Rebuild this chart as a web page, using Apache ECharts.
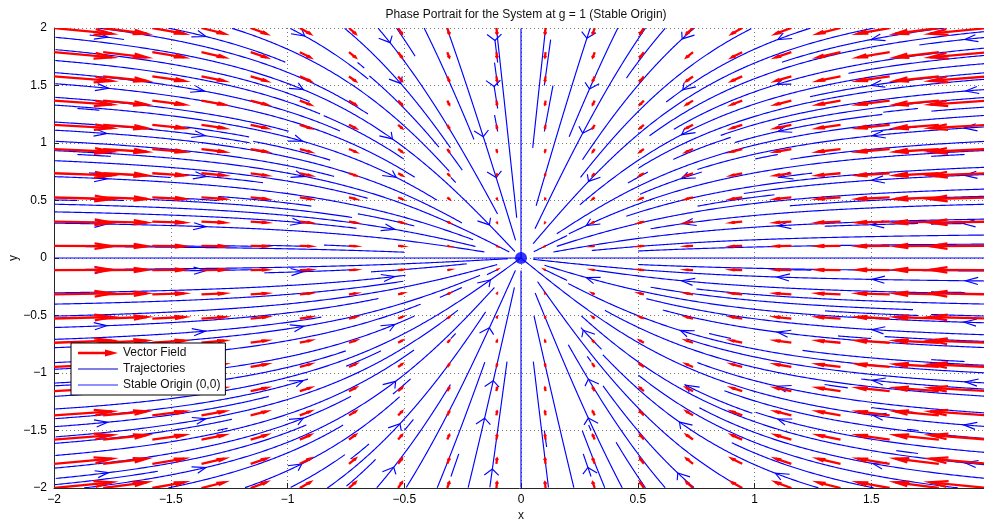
<!DOCTYPE html>
<html>
<head>
<meta charset="utf-8">
<title>Phase Portrait, g = 1</title>
<script src="https://cdn.jsdelivr.net/npm/echarts@6/dist/echarts.min.js"></script>
<style>
  html, body { margin: 0; padding: 0; background: #ffffff; }
  #chart { width: 984px; height: 522px; }
</style>
</head>
<body>
<div id="chart"></div>
<script>
// System parameter: dx/dt = -(g*x + x^3), dy/dt = -y
const g = 1;

// Sample points of the vector field (20 x 20 grid over [-2, 2])
const quiverX = [-2, -1.7895, -1.5789, -1.3684, -1.1579, -0.9474, -0.7368, -0.5263, -0.3158, -0.1053,
                 0.1053, 0.3158, 0.5263, 0.7368, 0.9474, 1.1579, 1.3684, 1.5789, 1.7895, 2];
const quiverY = [-2, -1.7895, -1.5789, -1.3684, -1.1579, -0.9474, -0.7368, -0.5263, -0.3158, -0.1053,
                 0.1053, 0.3158, 0.5263, 0.7368, 0.9474, 1.1579, 1.3684, 1.5789, 1.7895, 2];

// Start positions for trajectories
const seedCoords = [-1.9, -1.7, -1.5, -1.3, -1.1, -0.9, -0.7, -0.5, -0.3, -0.1,
                    0.1, 0.3, 0.5, 0.7, 0.9, 1.1, 1.3, 1.5, 1.7, 1.9];
const axisSeeds = [[0, 1.9], [-1.9, 0], [1.9, 0]];
const lateAxisSeeds = [[0, -1.9]];

// Where the direction arrowheads sit along the trajectories
const arrowX = [-1.77, -1.35, -0.93, -0.54, -0.14, 0.28, 0.69, 1.1, 1.5, 1.9];
const arrowY = [-1.83, -1.4, -1.06, -0.6, -0.17, 0.28, 0.68, 1.07, 1.48, 1.91];

// Axis ticks
const xTicks = [-2, -1.5, -1, -0.5, 0, 0.5, 1, 1.5, 2];
const yTicks = [-2, -1.5, -1, -0.5, 0, 0.5, 1, 1.5, 2];

function field(x, y) {
  return [-(g * x + x * x * x), -y];
}

// ---- vector field arrows ----
const quiverScale = 0.0248;
const quiverData = [];
for (const x of quiverX) {
  for (const y of quiverY) {
    const [u, v] = field(x, y);
    quiverData.push([x, y, u * quiverScale, v * quiverScale]);
  }
}

// ---- evenly spaced trajectories (occupancy grid, like streamslice) ----
const lo = xTicks[0], hi = xTicks[xTicks.length - 1];
const NE = 80;
const cell = (hi - lo) / NE;
const occupied = new Uint8Array(NE * NE);
const h = 0.008;

function cellOf(x, y) {
  let c = Math.floor((x - lo) / cell), r = Math.floor((y - lo) / cell);
  c = Math.max(0, Math.min(NE - 1, c));
  r = Math.max(0, Math.min(NE - 1, r));
  return r * NE + c;
}
function dir(x, y, s) {
  const [u, v] = field(x, y);
  const m = Math.hypot(u, v);
  if (m < 1e-10) return null;
  return [s * u / m, s * v / m];
}
function trace(x0, y0, s) {
  const pts = [];
  let x = x0, y = y0, prev = cellOf(x0, y0);
  for (let k = 0; k < 6000; k++) {
    const d1 = dir(x, y, s);
    if (!d1) break;
    const d2 = dir(x + 0.5 * h * d1[0], y + 0.5 * h * d1[1], s);
    if (!d2) break;
    const nx = x + h * d2[0], ny = y + h * d2[1];
    if (nx < lo || nx > hi || ny < lo || ny > hi) break;
    if (s > 0 && Math.hypot(nx, ny) < h) { pts.push([0, 0]); break; }
    const c = cellOf(nx, ny);
    if (c !== prev) {
      if (occupied[c]) break;
      occupied[c] = 1;
      prev = c;
    }
    x = nx; y = ny;
    pts.push([x, y]);
  }
  return pts;
}

// coarse-to-fine seeding order
const seeds = axisSeeds.slice();
const n = seedCoords.length;
for (const step of [8, 4, 2, 1]) {
  for (let r = 0; r < n; r += step) {
    for (let c = 0; c < n; c += step) {
      const coarser = step < 8 && r % (step * 2) === 0 && c % (step * 2) === 0;
      if (!coarser) seeds.push([seedCoords[c], seedCoords[n - 1 - r]]);
    }
  }
}
seeds.push(...lateAxisSeeds);

const streamlines = [];
for (const [sx, sy] of seeds) {
  const c0 = cellOf(sx, sy);
  if (occupied[c0]) continue;
  occupied[c0] = 1;
  const fwd = trace(sx, sy, 1);
  const bwd = trace(sx, sy, -1);
  const line = bwd.reverse().concat([[sx, sy]], fwd);
  if (line.length < 3) continue;
  streamlines.push(line);
}

// arrowheads: one per lattice spot, on the nearest trajectory point
const PX = 233.5, PY = 115;
const arrowData = [];
for (const ax of arrowX) {
  for (const ay of arrowY) {
    let best = null, bd = 1e9;
    streamlines.forEach((line, li) => {
      for (let k = 1; k < line.length - 1; k++) {
        const ddx = (line[k][0] - ax) * PX, ddy = (line[k][1] - ay) * PY;
        const d = ddx * ddx + ddy * ddy;
        if (d < bd) { bd = d; best = [li, k]; }
      }
    });
    if (!best || bd > 28 * 28) continue;
    const line = streamlines[best[0]], k = best[1];
    const p = line[k], a = line[k - 1], b = line[k + 1];
    const dl = Math.hypot(b[0] - a[0], b[1] - a[1]) || 1;
    arrowData.push([p[0], p[1], (b[0] - a[0]) / dl, (b[1] - a[1]) / dl]);
  }
}

// ---- chart ----
const minus = v => (v < 0 ? '\u2212' + Math.abs(v) : String(v));
const FONT = 'Liberation Sans';
const axisColor = '#262626';
const gridStyle = { show: true, lineStyle: { color: '#777', type: [1, 3], width: 1 } };
const trajStyle = { stroke: '#0000ff', lineWidth: 1.15, fill: null };

const chart = echarts.init(document.getElementById('chart'), null, { renderer: 'canvas' });

chart.setOption({
  animation: false,
  backgroundColor: '#ffffff',
  title: {
    text: 'Phase Portrait for the System at g = 1 (Stable Origin)',
    left: 521, top: 4, textAlign: 'center',
    textStyle: { fontFamily: FONT, fontSize: 12, fontWeight: 'normal', color: '#111' }
  },
  grid: { left: 54, top: 28, width: 934, height: 460, outerBoundsMode: 'none' },
  xAxis: {
    type: 'value', min: xTicks[0], max: xTicks[xTicks.length - 1], interval: 0.5,
    name: 'x', nameLocation: 'middle', nameGap: 22, nameMoveOverlap: false,
    nameTextStyle: { fontFamily: FONT, fontSize: 12, color: '#111' },
    axisLine: { onZero: false, lineStyle: { color: axisColor, width: 1 } },
    axisTick: { inside: true, length: 5, lineStyle: { color: axisColor } },
    axisLabel: { margin: 6, formatter: minus, fontFamily: FONT, fontSize: 12, color: '#000' },
    splitLine: gridStyle
  },
  yAxis: {
    type: 'value', min: yTicks[0], max: yTicks[yTicks.length - 1], interval: 0.5,
    name: 'y', nameLocation: 'middle', nameGap: 34, nameMoveOverlap: false,
    nameTextStyle: { fontFamily: FONT, fontSize: 12, color: '#111' },
    axisLine: { onZero: false, lineStyle: { color: axisColor, width: 1 } },
    axisTick: { inside: true, length: 5, lineStyle: { color: axisColor } },
    axisLabel: { margin: 7, formatter: minus, fontFamily: FONT, fontSize: 12, color: '#000' },
    splitLine: gridStyle
  },
  legend: {
    orient: 'vertical', left: 71, top: 343,
    padding: [4, 5, 4, 7], itemGap: 4, itemWidth: 40, itemHeight: 14,
    backgroundColor: '#ffffff', borderColor: '#000', borderWidth: 1, borderRadius: 0,
    selectedMode: false,
    textStyle: { fontFamily: FONT, fontSize: 12, color: '#111' },
    data: [
      { name: 'Vector Field', icon: 'path://M0,2.3H27V0L40,3.5L27,7V4.7H0Z', itemStyle: { color: '#ff0000' } },
      { name: 'Trajectories', icon: 'path://M0,0H40V1H0Z', itemStyle: { color: '#0000c8' } },
      { name: 'Stable Origin (0,0)', icon: 'path://M0,0H40V1.5H0Z', itemStyle: { color: '#4646ff' } }
    ]
  },
  series: [
    {
      name: 'Trajectories',
      type: 'custom',
      coordinateSystem: 'cartesian2d',
      clip: true,
      silent: true,
      z: 2,
      encode: { x: 0, y: 1 },
      data: streamlines.map((line, i) => [line[0][0], line[0][1], i]),
      itemStyle: { color: '#0000ff' },
      renderItem: function (params, api) {
        const pts = streamlines[api.value(2)].map(p => api.coord(p));
        return { type: 'polyline', shape: { points: pts }, style: trajStyle };
      }
    },
    {
      name: 'Trajectories',
      type: 'custom',
      coordinateSystem: 'cartesian2d',
      clip: true,
      silent: true,
      z: 2,
      encode: { x: 0, y: 1 },
      data: arrowData,
      itemStyle: { color: '#0000ff' },
      renderItem: function (params, api) {
        const tx = api.value(0), ty = api.value(1), dx = api.value(2), dy = api.value(3);
        const L = 0.062, a = 30 * Math.PI / 180;
        const ca = Math.cos(a), sa = Math.sin(a);
        const w1 = [tx - L * (dx * ca - dy * sa), ty - L * (dx * sa + dy * ca)];
        const w2 = [tx - L * (dx * ca + dy * sa), ty - L * (-dx * sa + dy * ca)];
        return {
          type: 'polyline',
          shape: { points: [api.coord(w1), api.coord([tx, ty]), api.coord(w2)] },
          style: trajStyle
        };
      }
    },
    {
      name: 'Vector Field',
      type: 'custom',
      coordinateSystem: 'cartesian2d',
      clip: true,
      silent: true,
      z: 3,
      encode: { x: 0, y: 1 },
      data: quiverData,
      itemStyle: { color: '#ff0000' },
      renderItem: function (params, api) {
        const x = api.value(0), y = api.value(1), du = api.value(2), dv = api.value(3);
        const alpha = 0.3, beta = 0.33;
        const tip = [x + du, y + dv];
        const w1 = [tip[0] - alpha * (du + beta * dv), tip[1] - alpha * (dv - beta * du)];
        const w2 = [tip[0] - alpha * (du - beta * dv), tip[1] - alpha * (dv + beta * du)];
        const style = { stroke: '#ff0000', lineWidth: 2.3, fill: null, lineJoin: 'miter' };
        return {
          type: 'group',
          children: [
            { type: 'polyline', shape: { points: [api.coord([x, y]), api.coord(tip)] }, style: style },
            { type: 'polyline', shape: { points: [api.coord(w1), api.coord(tip), api.coord(w2)] }, style: style }
          ]
        };
      }
    },
    {
      name: 'Stable Origin (0,0)',
      type: 'scatter',
      z: 4,
      symbol: 'circle',
      symbolSize: 12,
      itemStyle: { color: '#0000ff' },
      data: [[0, 0]]
    }
  ]
});
</script>
</body>
</html>
